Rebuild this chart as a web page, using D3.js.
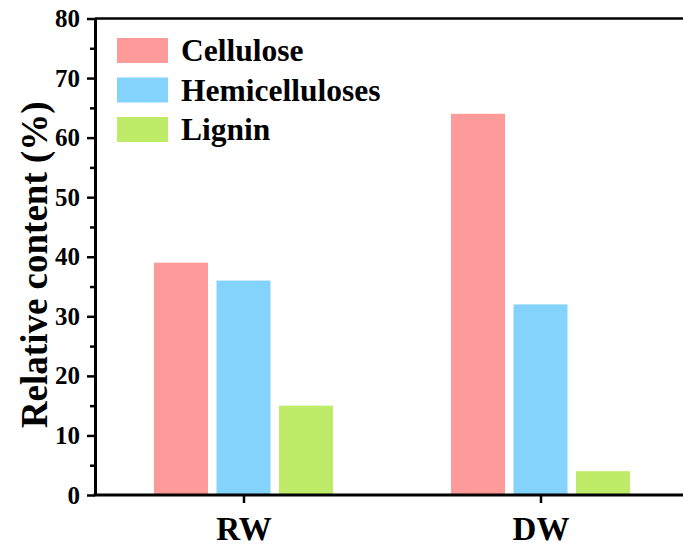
<!DOCTYPE html>
<html>
<head>
<meta charset="utf-8">
<script src="https://cdn.jsdelivr.net/npm/d3@7"></script>
<style>
  html, body { margin: 0; padding: 0; background: #ffffff; }
  svg { display: block; }
  text { font-family: "Liberation Serif", "Times New Roman", serif; font-weight: bold; fill: #000; }
</style>
</head>
<body>
<svg id="chart" width="683" height="551"></svg>
<script>
// Wood samples and their component contents (%)
const samples = ["RW", "DW"];
const components = ["Cellulose", "Hemicelluloses", "Lignin"];
const cellulose = [39, 64];
const hemicelluloses = [36, 32];
const lignin = [15, 4];
const yTicks = [0, 10, 20, 30, 40, 50, 60, 70, 80];
const colors = ["#fe9a9a", "#84d3fc", "#bfec68"];

const seriesValues = [cellulose, hemicelluloses, lignin];
const rows = samples.map((s, i) => ({
  sample: s,
  values: components.map((c, k) => ({ component: c, value: seriesValues[k][i] }))
}));

const svg = d3.select("#chart");
const plotLeft = 95, plotRight = 689, plotTop = 18.5, plotBottom = 495;

const x0 = d3.scalePoint().domain(samples).range([plotLeft, plotRight]).padding(0.5);
const x1 = d3.scaleBand().domain(components).range([-89.5, 89.5]).paddingInner(0.136);
const y = d3.scaleLinear().domain([0, 80]).range([plotBottom, plotTop]);
const color = d3.scaleOrdinal().domain(components).range(colors);

// Bars
svg.append("g").selectAll("g")
  .data(rows)
  .join("g")
  .attr("transform", d => `translate(${x0(d.sample)},0)`)
  .selectAll("rect")
  .data(d => d.values)
  .join("rect")
  .attr("x", d => x1(d.component))
  .attr("width", x1.bandwidth())
  .attr("y", d => y(d.value))
  .attr("height", d => y(0) - y(d.value))
  .attr("fill", d => color(d.component));

// Top frame line
svg.append("line")
  .attr("x1", plotLeft).attr("x2", 683)
  .attr("y1", plotTop).attr("y2", plotTop)
  .attr("stroke", "#000").attr("stroke-width", 2.5);

// Y axis with minor ticks
const yMinor = d3.range(5, 80, 10);
svg.append("g")
  .attr("transform", `translate(${plotLeft},0)`)
  .call(d3.axisLeft(y).tickValues(yMinor).tickSize(5).tickFormat(""))
  .call(g => g.select(".domain").remove())
  .call(g => g.selectAll("line").attr("stroke-width", 2.5));

const yAxis = svg.append("g")
  .attr("transform", `translate(${plotLeft},0)`)
  .call(d3.axisLeft(y).tickValues(yTicks).tickSize(8).tickPadding(7).tickSizeOuter(0));
yAxis.select(".domain").attr("stroke-width", 3);
yAxis.selectAll(".tick line").attr("stroke-width", 2.5);
yAxis.selectAll(".tick text")
  .attr("font-size", 25)
  .attr("font-family", "Liberation Serif, Times New Roman, serif")
  .attr("font-weight", "bold");

// X axis
const xAxis = svg.append("g")
  .attr("transform", `translate(0,${plotBottom})`)
  .call(d3.axisBottom(x0).tickSize(8).tickPadding(14).tickSizeOuter(0));
xAxis.select(".domain").attr("stroke-width", 3)
  .attr("d", `M${plotLeft - 1.5},0H683`);
xAxis.selectAll(".tick line").attr("stroke-width", 2.5);
xAxis.selectAll(".tick text")
  .attr("font-size", 33)
  .attr("font-family", "Liberation Serif, Times New Roman, serif")
  .attr("font-weight", "bold");

// Y axis title
svg.append("text")
  .attr("transform", `translate(47,${(plotTop + plotBottom) / 2 + 8}) rotate(-90)`)
  .attr("text-anchor", "middle")
  .attr("font-size", 37)
  .text("Relative content (%)");

// Legend
const legend = svg.append("g").attr("transform", "translate(117,38)");
const item = legend.selectAll("g")
  .data(components)
  .join("g")
  .attr("transform", (d, i) => `translate(0,${i * 39.5})`);
item.append("rect")
  .attr("width", 51).attr("height", 25)
  .attr("fill", d => color(d));
item.append("text")
  .attr("x", 64).attr("y", 23)
  .attr("font-size", 31.5)
  .text(d => d);
</script>
</body>
</html>
